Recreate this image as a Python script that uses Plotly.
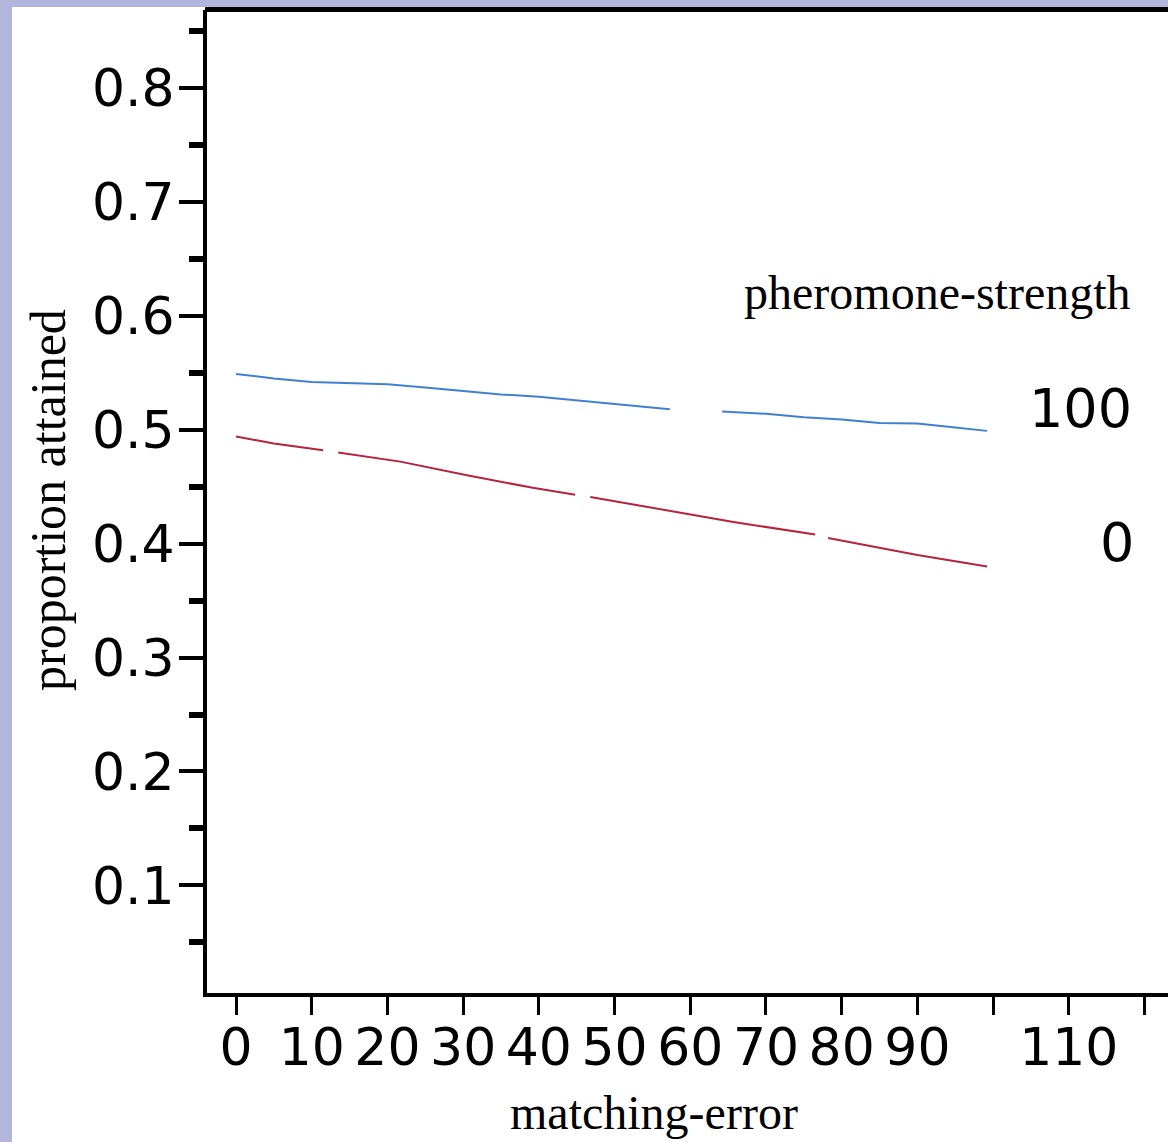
import plotly.graph_objects as go

# ---- data ----
x_strength_100 = [0, 5, 10, 15, 20, 25, 30, 35, 40, 45, 50, 57.3, None,
                  64.2, 70, 75, 80, 85, 90, 95, 99.2]
y_strength_100 = [0.549, 0.545, 0.542, 0.541, 0.540, 0.537, 0.534, 0.531, 0.529, 0.526, 0.523, 0.518, None,
                  0.516, 0.514, 0.511, 0.509, 0.506, 0.5055, 0.502, 0.499]

x_strength_0 = [0, 5, 11.5, None, 13.5, 21.7, 30.5, 39.2, 44.8, None,
                46.8, 54.7, 61.3, 65.7, 76.5, None, 78.2, 90, 99.2]
y_strength_0 = [0.494, 0.488, 0.482, None, 0.480, 0.472, 0.460, 0.449, 0.443, None,
                0.441, 0.432, 0.424, 0.419, 0.408, None, 0.405, 0.390, 0.380]

x_tick_vals = [0, 10, 20, 30, 40, 50, 60, 70, 80, 90, 100, 110, 120]
x_tick_text = ["0", "10", "20", "30", "40", "50", "60", "70", "80", "90", "", "110", ""]
y_tick_vals = [0.1, 0.2, 0.3, 0.4, 0.5, 0.6, 0.7, 0.8]
y_tick_text = ["0.1", "0.2", "0.3", "0.4", "0.5", "0.6", "0.7", "0.8"]
y_minor_vals = [0.05, 0.15, 0.25, 0.35, 0.45, 0.55, 0.65, 0.75, 0.85]

legend_title = "pheromone-strength"
legend_labels = ["100", "0"]

# ---- layout geometry (pixels) ----
W, H = 1168, 1142
L, T, R, B = 207, 10, 0, 149
PW, PH = W - L - R, H - T - B


def px_x(px):
    return (px - L) / PW


def px_y(py):
    return (H - B - py) / PH


BLUE = "#4080D0"
RED = "#B7223E"
PURPLE = "#B3B5DC"
SANS = "DejaVu Sans"
SERIF = "Liberation Serif"

fig = go.Figure()
fig.add_trace(go.Scatter(x=x_strength_100, y=y_strength_100, mode="lines",
                         line=dict(color=BLUE, width=2), connectgaps=False,
                         name=legend_labels[0], showlegend=False))
fig.add_trace(go.Scatter(x=x_strength_0, y=y_strength_0, mode="lines",
                         line=dict(color=RED, width=2), connectgaps=False,
                         name=legend_labels[1], showlegend=False))

fig.update_layout(
    width=W, height=H,
    margin=dict(l=L, t=T, r=R, b=B, pad=0),
    paper_bgcolor="white", plot_bgcolor="white",
    xaxis=dict(range=[-3.83, 123.1], showgrid=False, zeroline=False,
               showline=True, linecolor="black", linewidth=4,
               ticks="outside", ticklen=18, tickwidth=3, tickcolor="black",
               tickvals=x_tick_vals, ticktext=x_tick_text,
               ticklabelstandoff=-12,
               tickfont=dict(family=SANS, size=52, color="black")),
    yaxis=dict(range=[0.0055, 0.8685], showgrid=False, zeroline=False,
               showline=True, linecolor="black", linewidth=4,
               ticks="outside", ticklen=24, tickwidth=4, tickcolor="black",
               tickvals=y_tick_vals, ticktext=y_tick_text,
               ticklabelstandoff=-6,
               tickfont=dict(family=SANS, size=52, color="black"),
               minor=dict(tickvals=y_minor_vals, ticks="outside", ticklen=14,
                          tickwidth=6, tickcolor="black")),
    shapes=[
        dict(type="rect", xref="paper", yref="paper", layer="below",
             x0=px_x(-5), x1=px_x(12), y0=px_y(H + 5), y1=px_y(-5),
             fillcolor=PURPLE, line=dict(width=0)),
        dict(type="rect", xref="paper", yref="paper", layer="below",
             x0=px_x(-5), x1=px_x(W + 5), y0=px_y(7), y1=px_y(-5),
             fillcolor=PURPLE, line=dict(width=0)),
        dict(type="line", xref="paper", yref="paper",
             x0=px_x(205), x1=px_x(W + 5), y0=px_y(9.5), y1=px_y(9.5),
             line=dict(color="black", width=5)),
    ],
    annotations=[
        dict(text="proportion attained", xref="paper", yref="paper",
             x=px_x(48), y=px_y(500), xanchor="center", yanchor="middle",
             textangle=-90, showarrow=False,
             font=dict(family=SERIF, size=50, color="black")),
        dict(text="matching-error", xref="paper", yref="paper",
             x=px_x(654), y=px_y(1112), xanchor="center", yanchor="middle",
             showarrow=False, font=dict(family=SERIF, size=48, color="black")),
        dict(text=legend_title, xref="paper", yref="paper",
             x=px_x(1133), y=px_y(292), xanchor="right", yanchor="middle",
             showarrow=False, font=dict(family=SERIF, size=48, color="black")),
        dict(text=legend_labels[0], xref="paper", yref="paper",
             x=px_x(1134), y=px_y(408), xanchor="right", yanchor="middle",
             showarrow=False, font=dict(family=SANS, size=54, color="black")),
        dict(text=legend_labels[1], xref="paper", yref="paper",
             x=px_x(1136), y=px_y(542), xanchor="right", yanchor="middle",
             showarrow=False, font=dict(family=SANS, size=54, color="black")),
    ],
)

fig.write_html("out.html",
               config={"displayModeBar": False},
               post_script="document.body.style.margin='0';"
                           "document.body.style.background='#B3B5DC';")
